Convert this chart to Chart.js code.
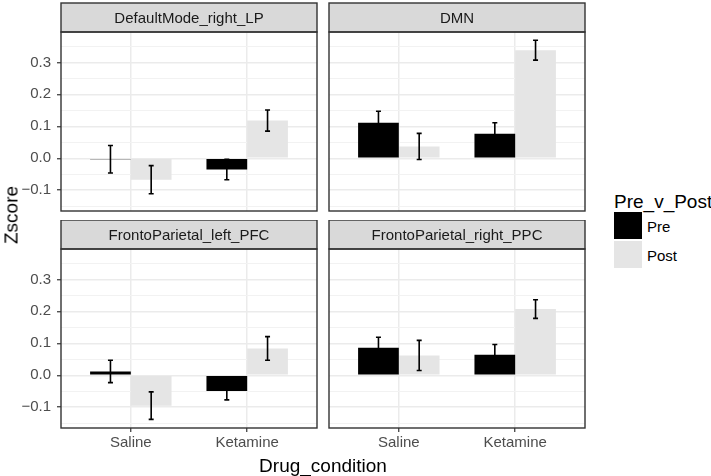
<!DOCTYPE html>
<html>
<head>
<meta charset="utf-8">
<script src="https://cdn.jsdelivr.net/npm/chart.js@4"></script>
<style>
  body { margin: 0; background: #fff; }
  #wrap { position: relative; width: 711px; height: 476px; overflow: hidden;
          font-family: "Liberation Sans", Arial, sans-serif; }
  #wrap canvas, #wrap .txt, #wrap .key { position: absolute; }
  .txt { white-space: nowrap; line-height: 1; }
</style>
</head>
<body>
<div id="wrap">
  <canvas id="p0"></canvas>
  <canvas id="p1"></canvas>
  <canvas id="p2"></canvas>
  <canvas id="p3"></canvas>
</div>
<script>
// categories and panels
const drugs = ["Saline", "Ketamine"];
const phases = ["Pre", "Post"];
const phaseColors = ["#000000", "#E5E5E5"];
const panels = ["DefaultMode_right_LP", "DMN", "FrontoParietal_left_PFC", "FrontoParietal_right_PPC"];

// mean Zscore per panel, [Saline, Ketamine]
const preMean  = [[-0.003, -0.035], [0.111, 0.077], [0.012, -0.049], [0.086, 0.064]];
const preSE    = [[0.043, 0.032], [0.036, 0.034], [0.035, 0.028], [0.033, 0.032]];
const postMean = [[-0.067, 0.118], [0.037, 0.338], [-0.095, 0.084], [0.062, 0.207]];
const postSE   = [[0.044, 0.033], [0.041, 0.031], [0.043, 0.037], [0.047, 0.029]];

// axis ticks
const yMajor = [-0.1, 0.0, 0.1, 0.2, 0.3];
const yMinor = [-0.15, -0.05, 0.05, 0.15, 0.25, 0.35];
const yMin = -0.165, yMax = 0.395;

Chart.defaults.font.family = "'Liberation Sans', Arial, sans-serif";

const isMajor = v => yMajor.some(m => Math.abs(m - v) < 1e-9);
const fmt = v => v.toFixed(1).replace("-", "\u2212");

// strip label on top + dark frame round the panel
const facet = {
  id: "facet",
  afterDraw(chart, args, opts) {
    const a = chart.chartArea, ctx = chart.ctx;
    ctx.save();
    ctx.fillStyle = "#D9D9D9";
    ctx.fillRect(a.left, opts.stripTop, a.right - a.left, a.top - opts.stripTop);
    ctx.strokeStyle = "#333333";
    ctx.lineWidth = 1.4;
    ctx.strokeRect(a.left, opts.stripTop, a.right - a.left, a.top - opts.stripTop);
    ctx.strokeRect(a.left, a.top, a.right - a.left, a.bottom - a.top);
    ctx.fillStyle = "#1A1A1A";
    ctx.font = "15px 'Liberation Sans', Arial, sans-serif";
    ctx.textAlign = "center";
    ctx.textBaseline = "middle";
    ctx.fillText(opts.title, (a.left + a.right) / 2, (opts.stripTop + a.top) / 2 + 1);
    ctx.restore();
  }
};

// error bars, mean +/- se, on each bar
const errorBars = {
  id: "errorBars",
  afterDatasetsDraw(chart) {
    const ctx = chart.ctx, ys = chart.scales.y;
    ctx.save();
    ctx.strokeStyle = "#000";
    ctx.lineWidth = 1.6;
    chart.data.datasets.forEach((ds, di) => {
      chart.getDatasetMeta(di).data.forEach((bar, i) => {
        const m = ds.data[i].y, e = ds.se[i];
        const y1 = ys.getPixelForValue(m + e), y2 = ys.getPixelForValue(m - e);
        ctx.beginPath();
        ctx.moveTo(bar.x, y1); ctx.lineTo(bar.x, y2);
        ctx.moveTo(bar.x - 2.5, y1); ctx.lineTo(bar.x + 2.5, y1);
        ctx.moveTo(bar.x - 2.5, y2); ctx.lineTo(bar.x + 2.5, y2);
        ctx.stroke();
      });
    });
    ctx.restore();
  }
};

// canvas placement of each facet
const layout = [
  { left: 0,   top: 0,   w: 321, h: 227, pad: { top: 32, left: 0, right: 4, bottom: 16 }, yAxis: true,  xAxis: false },
  { left: 321, top: 0,   w: 268, h: 227, pad: { top: 32, left: 8, right: 4, bottom: 16 }, yAxis: false, xAxis: false },
  { left: 0,   top: 220, w: 321, h: 238, pad: { top: 29, left: 0, right: 4, bottom: 4 },  yAxis: true,  xAxis: true },
  { left: 321, top: 220, w: 268, h: 238, pad: { top: 29, left: 8, right: 4, bottom: 4 },  yAxis: false, xAxis: true }
];

panels.forEach((name, p) => {
  const L = layout[p];
  const cv = document.getElementById("p" + p);
  cv.width = L.w; cv.height = L.h;
  cv.style.left = L.left + "px"; cv.style.top = L.top + "px";

  const means = [preMean[p], postMean[p]];
  const ses = [preSE[p], postSE[p]];

  new Chart(cv, {
    type: "bar",
    data: {
      datasets: phases.map((ph, k) => ({
        label: ph,
        data: drugs.map((d, i) => ({ x: i + 1, y: means[k][i] })),
        se: ses[k],
        backgroundColor: phaseColors[k],
        borderWidth: 0,
        barPercentage: 1,
        categoryPercentage: 0.7
      }))
    },
    options: {
      responsive: false,
      animation: false,
      layout: { padding: L.pad },
      plugins: {
        legend: { display: false },
        tooltip: { enabled: false },
        facet: { title: name, stripTop: L.pad.top === 32 ? 3 : 0 }
      },
      scales: {
        x: {
          type: "linear",
          min: 0.4, max: 2.6,
          offset: false,
          grid: { offset: false, color: "#EBEBEB", lineWidth: 1.5, drawTicks: L.xAxis,
                  tickLength: 4, tickColor: "#333333", tickWidth: 1.2 },
          border: { display: false },
          afterBuildTicks: s => { s.ticks = drugs.map((d, i) => ({ value: i + 1 })); },
          afterFit: s => { s.height = L.xAxis ? 26 : 0; },
          ticks: {
            display: L.xAxis,
            autoSkip: false,
            color: "#4D4D4D",
            font: { size: 15 },
            padding: 2,
            maxRotation: 0,
            callback: v => drugs[Math.round(v) - 1]
          }
        },
        y: {
          min: yMin, max: yMax,
          grid: {
            color: c => isMajor(c.tick.value) ? "#EBEBEB" : "#F2F2F2",
            lineWidth: c => isMajor(c.tick.value) ? 1.5 : 1,
            drawTicks: L.yAxis,
            tickLength: 4,
            tickWidth: 1.2,
            tickColor: c => isMajor(c.tick.value) ? "#333333" : "rgba(0,0,0,0)"
          },
          border: { display: false },
          afterBuildTicks: s => {
            s.ticks = yMajor.concat(yMinor).sort((a, b) => a - b).map(v => ({ value: v }));
          },
          afterFit: s => { s.width = L.yAxis ? 61 : 0; },
          ticks: {
            display: L.yAxis,
            autoSkip: false,
            color: "#4D4D4D",
            font: { size: 15 },
            padding: 6,
            callback: v => isMajor(v) ? fmt(v) : ""
          }
        }
      }
    },
    plugins: [facet, errorBars]
  });
});

// axis titles and legend as page text
const wrap = document.getElementById("wrap");
function addText(str, css) {
  const d = document.createElement("div");
  d.className = "txt";
  d.textContent = str;
  Object.assign(d.style, css);
  wrap.appendChild(d);
  return d;
}
addText("Zscore", { left: "11px", top: "215px", fontSize: "19px", color: "#000",
  transform: "translate(-50%, -50%) rotate(-90deg)" });
addText("Drug_condition", { left: "323px", top: "465px", fontSize: "19px", color: "#000",
  transform: "translate(-50%, -50%)" });
addText("Pre_v_Post", { left: "614px", top: "201px", fontSize: "19px", color: "#000",
  transform: "translateY(-50%)" });
phases.forEach((ph, k) => {
  const k0 = document.createElement("div");
  k0.className = "key";
  Object.assign(k0.style, { left: "614px", top: (212 + k * 29) + "px", width: "28px", height: "27px",
    background: phaseColors[k] });
  wrap.appendChild(k0);
  addText(ph, { left: "647px", top: (226 + k * 29) + "px", fontSize: "15px", color: "#000",
    transform: "translateY(-50%)" });
});
</script>
</body>
</html>
